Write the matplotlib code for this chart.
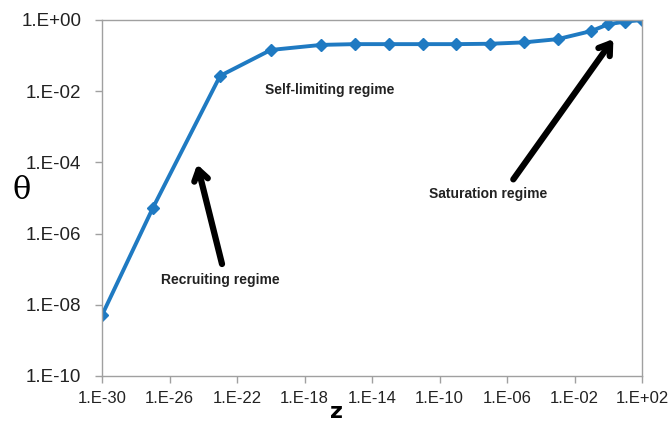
import matplotlib.pyplot as plt
import numpy as np

# data
z = [1e-30, 1e-27, 1e-23, 1e-20, 1e-17, 1e-15, 1e-13, 1e-11, 1e-9, 1e-7,
     1e-5, 1e-3, 1e-1, 1e0, 1e1, 1e2]
theta = [5.1e-9, 5.1e-6, 0.027, 0.144, 0.20, 0.21, 0.21, 0.21, 0.21, 0.215,
         0.235, 0.29, 0.49, 0.76, 0.90, 1.0]
xticks = [1e-30, 1e-26, 1e-22, 1e-18, 1e-14, 1e-10, 1e-6, 1e-2, 1e2]
xlabels = ['1.E-30', '1.E-26', '1.E-22', '1.E-18', '1.E-14', '1.E-10', '1.E-06', '1.E-02', '1.E+02']
yticks = [1e-10, 1e-8, 1e-6, 1e-4, 1e-2, 1e0]
ylabels = ['1.E-10', '1.E-08', '1.E-06', '1.E-04', '1.E-02', '1.E+00']

plt.rcParams['font.family'] = ['Liberation Sans', 'DejaVu Sans']

fig = plt.figure(figsize=(6.69, 4.26), dpi=100)
ax = fig.add_axes([102/669, 1 - 376/426, 540/669, 356/426])

ax.plot(z, theta, color='#1f7ac2', lw=2.8, marker='D', ms=6.5, mec='#1f7ac2')
ax.set_xscale('log')
ax.set_yscale('log')
ax.set_xlim(1e-30, 1e2)
ax.set_ylim(1e-10, 1e0)
ax.minorticks_off()
ax.set_xticks(xticks)
ax.set_xticklabels(xlabels)
ax.set_yticks(yticks)
ax.set_yticklabels(ylabels)
ax.tick_params(colors='#a0a0a0', labelcolor='#222222', length=5, width=1)
ax.tick_params(axis='x', labelsize=12, pad=6)
ax.tick_params(axis='y', labelsize=13.5, pad=10)
for s in ax.spines.values():
    s.set_color('#a0a0a0')
    s.set_linewidth(1)

ax.set_xlabel('z', fontsize=16, fontweight='bold', family='DejaVu Sans', va='center')
ax.xaxis.set_label_coords(0.435, -0.1)
ax.set_ylabel('θ', fontsize=22, rotation=0, family='DejaVu Serif', va='center', ha='center')
ax.yaxis.set_label_coords(-0.148, 0.522)

# annotations
arrow = dict(arrowstyle='->, head_length=0.75, head_width=0.5', lw=4.5, color='black')
ax.annotate('', xy=(0.175, 0.602), xytext=(0.2235, 0.307), xycoords='axes fraction', arrowprops=arrow)
ax.annotate('', xy=(0.950, 0.953), xytext=(0.7587, 0.546), xycoords='axes fraction', arrowprops=arrow)
ax.text(0.2185, 0.27, 'Recruiting regime', transform=ax.transAxes, ha='center', va='center',
        fontsize=10, fontweight='bold', color='#222222')
ax.text(0.715, 0.511, 'Saturation regime', transform=ax.transAxes, ha='center', va='center',
        fontsize=10, fontweight='bold', color='#222222')
ax.text(0.422, 0.803, 'Self-limiting regime', transform=ax.transAxes, ha='center', va='center',
        fontsize=10, fontweight='bold', color='#222222')

fig.savefig('out.png', dpi=100)
